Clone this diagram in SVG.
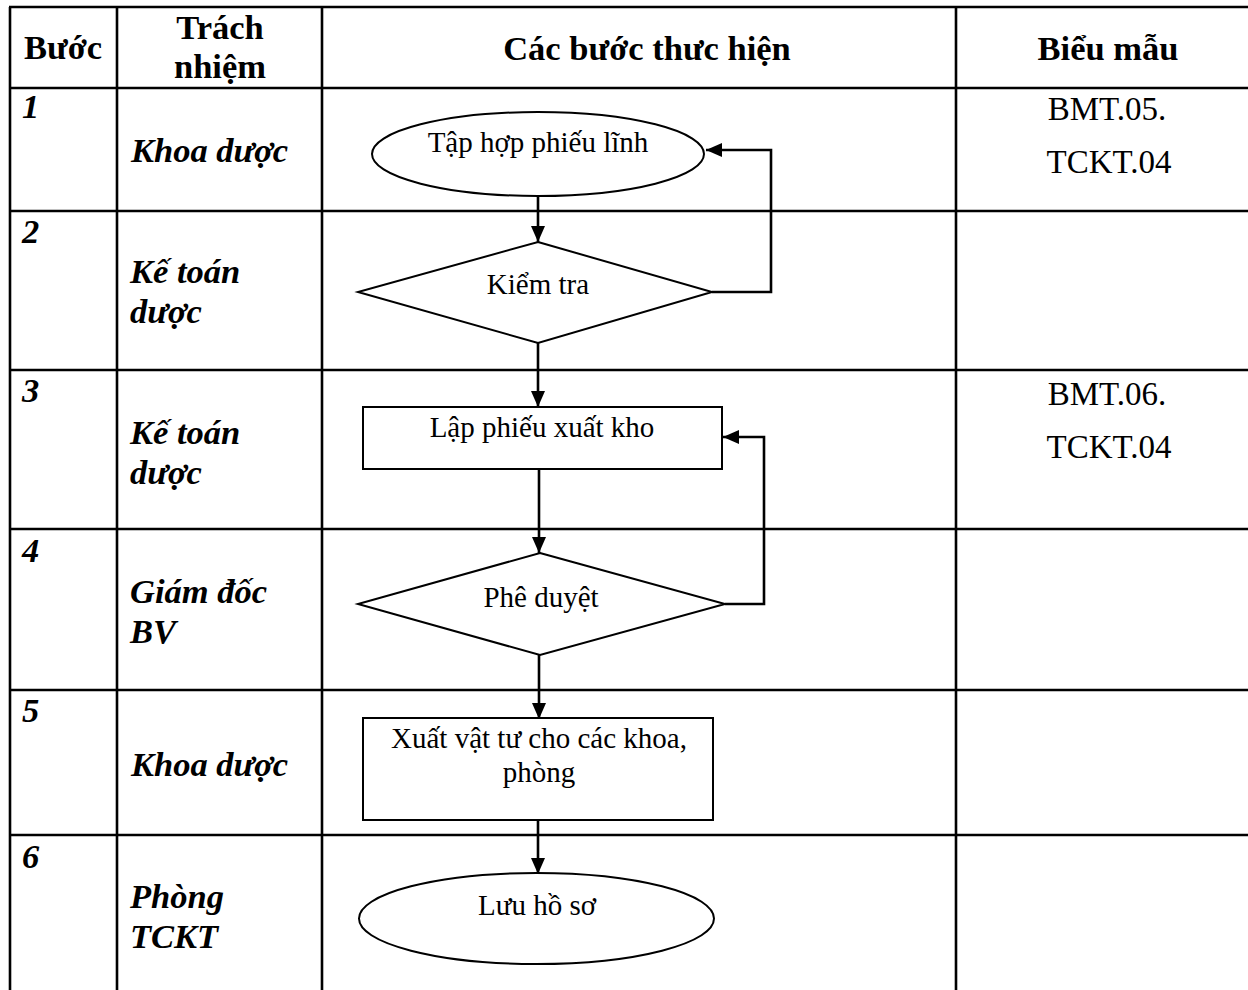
<svg xmlns="http://www.w3.org/2000/svg" width="1248" height="990" viewBox="0 0 1248 990">
<style>
.grid{stroke:#000;stroke-width:2.6;fill:none}
.shape{stroke:#000;stroke-width:2;fill:#fff}
.conn{stroke:#000;stroke-width:2.6;fill:none}
.hd{font-family:"Liberation Serif","Times New Roman",serif;font-weight:bold;font-size:34.5px;fill:#000}
.lbl{font-family:"Liberation Serif","Times New Roman",serif;font-weight:bold;font-style:italic;font-size:34.5px;fill:#000}
.body{font-family:"Liberation Serif","Times New Roman",serif;font-size:29px;fill:#000;text-anchor:middle}
.form{font-family:"Liberation Serif","Times New Roman",serif;font-size:33px;fill:#000;text-anchor:middle}
</style>
<defs>
<marker id="arr" markerUnits="userSpaceOnUse" markerWidth="17" markerHeight="14" refX="16" refY="7" orient="auto">
<path d="M0,0 L16,7 L0,14 z" fill="#000"/>
</marker>
</defs>
<rect width="1248" height="990" fill="#fff"/>
<g id="table">
<line class="grid" x1="10" y1="7" x2="10" y2="990"/>
<line class="grid" x1="117" y1="7" x2="117" y2="990"/>
<line class="grid" x1="322" y1="7" x2="322" y2="990"/>
<line class="grid" x1="956" y1="7" x2="956" y2="990"/>
<line class="grid" x1="9" y1="7" x2="1248" y2="7"/>
<line class="grid" x1="9" y1="88" x2="1248" y2="88"/>
<line class="grid" x1="9" y1="211" x2="1248" y2="211"/>
<line class="grid" x1="9" y1="370" x2="1248" y2="370"/>
<line class="grid" x1="9" y1="529" x2="1248" y2="529"/>
<line class="grid" x1="9" y1="690" x2="1248" y2="690"/>
<line class="grid" x1="9" y1="835" x2="1248" y2="835"/>
</g>
<g id="header">
<text class="hd" x="63" y="59" text-anchor="middle">Bước</text>
<text class="hd" x="220" y="39" text-anchor="middle">Trách</text>
<text class="hd" x="220" y="78" text-anchor="middle">nhiệm</text>
<text class="hd" x="647" y="60" text-anchor="middle">Các bước thưc hiện</text>
<text class="hd" x="1108" y="60" text-anchor="middle">Biểu mẫu</text>
</g>
<g id="labels">
<text class="lbl" x="22" y="118">1</text>
<text class="lbl" x="131" y="162">Khoa dược</text>
<text class="lbl" x="22" y="243">2</text>
<text class="lbl" x="130" y="283">Kế toán</text>
<text class="lbl" x="130" y="323">dược</text>
<text class="lbl" x="22" y="402">3</text>
<text class="lbl" x="130" y="444">Kế toán</text>
<text class="lbl" x="130" y="484">dược</text>
<text class="lbl" x="22" y="562">4</text>
<text class="lbl" x="130" y="603">Giám đốc</text>
<text class="lbl" x="130" y="643">BV</text>
<text class="lbl" x="22" y="722">5</text>
<text class="lbl" x="131" y="776">Khoa dược</text>
<text class="lbl" x="22" y="868">6</text>
<text class="lbl" x="130" y="908">Phòng</text>
<text class="lbl" x="130" y="948">TCKT</text>
</g>
<g id="forms">
<text class="form" x="1107" y="120">BMT.05.</text>
<text class="form" x="1109" y="173">TCKT.04</text>
<text class="form" x="1107" y="405">BMT.06.</text>
<text class="form" x="1109" y="458">TCKT.04</text>
</g>
<g id="connectors">
<line class="conn" x1="538" y1="196" x2="538" y2="242" marker-end="url(#arr)"/>
<polyline class="conn" points="712,292 771,292 771,150 706,150" marker-end="url(#arr)"/>
<line class="conn" x1="538" y1="343" x2="538" y2="407" marker-end="url(#arr)"/>
<line class="conn" x1="539" y1="469" x2="539" y2="553" marker-end="url(#arr)"/>
<polyline class="conn" points="725,604 764,604 764,437 723,437" marker-end="url(#arr)"/>
<line class="conn" x1="539" y1="655" x2="539" y2="719" marker-end="url(#arr)"/>
<line class="conn" x1="538" y1="820" x2="538" y2="874" marker-end="url(#arr)"/>
</g>
<g id="n1">
<ellipse class="shape" cx="538" cy="154" rx="166" ry="42"/>
<text class="body" x="538" y="152">Tập hợp phiếu lĩnh</text>
</g>
<g id="n2">
<polygon class="shape" points="538,242 712,292 538,343 358,292"/>
<text class="body" x="538" y="294">Kiểm tra</text>
</g>
<g id="n3">
<rect class="shape" x="363" y="407" width="359" height="62"/>
<text class="body" x="542" y="437">Lập phiếu xuất kho</text>
</g>
<g id="n4">
<polygon class="shape" points="540,553 725,604 540,655 358,604"/>
<text class="body" x="541" y="607">Phê duyệt</text>
</g>
<g id="n5">
<rect class="shape" x="363" y="718" width="350" height="102"/>
<text class="body" x="539" y="748">Xuất vật tư cho các khoa,</text>
<text class="body" x="539" y="782">phòng</text>
</g>
<g id="n6">
<ellipse class="shape" cx="536.5" cy="918.5" rx="177.5" ry="45.5"/>
<text class="body" x="537" y="915">Lưu hồ sơ</text>
</g>
</svg>
